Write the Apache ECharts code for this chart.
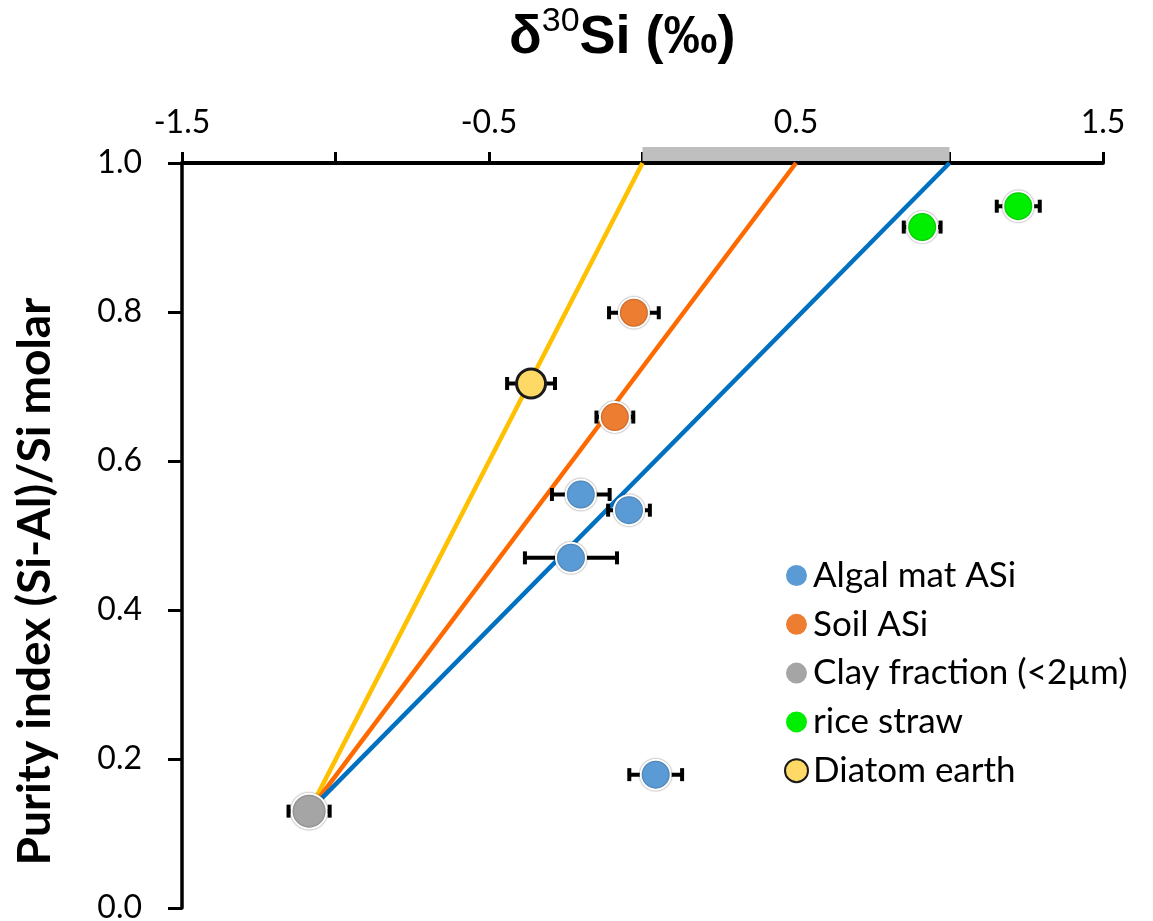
<!DOCTYPE html>
<html>
<head>
<meta charset="utf-8">
<script src="https://cdn.jsdelivr.net/npm/echarts@6/dist/echarts.min.js"></script>
<style>html,body{margin:0;padding:0;background:#fff;}#c{width:1153px;height:921px;}</style>
</head>
<body>
<div id="c"></div>
<script>
// ---- data ----
const algalX = [-0.201, -0.044, -0.233, 0.043];
const algalY = [0.555, 0.534, 0.470, 0.179];
const algalErr = [0.094, 0.068, 0.150, 0.086];

const soilX = [-0.028, -0.090];
const soilY = [0.799, 0.659];
const soilErr = [0.081, 0.060];

const clayX = [-1.086];
const clayY = [0.130];
const clayErr = [0.067];

const riceX = [0.911, 1.224];
const riceY = [0.914, 0.942];
const riceErr = [0.060, 0.070];

const diatomX = [-0.363];
const diatomY = [0.704];
const diatomErr = [0.078];

const mixEndX = [0, 0.5, 1.0];
const mixEndY = 1.0;
const rangeBar = [0, 1.0];

const xTickLabels = ['-1.5', '-0.5', '0.5', '1.5'];
const seriesNames = ['Algal mat ASi', 'Soil ASi', 'Clay fraction (<2µm)', 'rice straw', 'Diatom earth'];

// ---- build ----
const pts = (xs, ys) => xs.map((x, i) => [x, ys[i]]);
const errs = (xs, ys, es) => xs.map((x, i) => [x, ys[i], es[i]]);
const errData = [].concat(
  errs(algalX, algalY, algalErr), errs(soilX, soilY, soilErr), errs(clayX, clayY, clayErr),
  errs(riceX, riceY, riceErr), errs(diatomX, diatomY, diatomErr));

const lineColors = ['#FFC000', '#FF6A00', '#0070C0'];
const ringStyle = { opacity: 1, borderColor: '#ffffff', borderWidth: 2, shadowBlur: 2, shadowColor: 'rgba(0,0,0,0.45)' };

const chart = echarts.init(document.getElementById('c'), null, { renderer: 'canvas' });

const series = [];
// grey range bar above axis
series.push({
  type: 'custom', silent: true, z: 1,
  data: [[rangeBar[0], mixEndY, rangeBar[1]]],
  renderItem: (params, api) => {
    const a = api.coord([api.value(0), api.value(1)]);
    const b = api.coord([api.value(2), api.value(1)]);
    return { type: 'rect', shape: { x: a[0], y: a[1] - 16, width: b[0] - a[0], height: 14 }, style: { fill: '#BFBFBF' } };
  }
});
// mixing lines
mixEndX.forEach((ex, i) => {
  series.push({
    type: 'line', silent: true, z: 2, symbol: 'none',
    data: [[clayX[0], clayY[0]], [ex, mixEndY]],
    lineStyle: { color: lineColors[i], width: 4.5 }
  });
});
// error bars
series.push({
  type: 'custom', silent: true, z: 3,
  data: errData,
  renderItem: (params, api) => {
    const x = api.value(0), y = api.value(1), e = api.value(2);
    const l = api.coord([x - e, y]);
    const r = api.coord([x + e, y]);
    const st = { stroke: '#000', lineWidth: 4 };
    return {
      type: 'group', children: [
        { type: 'line', shape: { x1: l[0], y1: l[1], x2: r[0], y2: r[1] }, style: st },
        { type: 'line', shape: { x1: l[0], y1: l[1] - 6.5, x2: l[0], y2: l[1] + 6.5 }, style: st },
        { type: 'line', shape: { x1: r[0], y1: r[1] - 6.5, x2: r[0], y2: r[1] + 6.5 }, style: st }
      ]
    };
  }
});
// scatter series
series.push({ name: seriesNames[0], type: 'scatter', z: 5, symbolSize: 30, data: pts(algalX, algalY),
  itemStyle: Object.assign({ color: '#5B9BD5' }, ringStyle) });
series.push({ name: seriesNames[1], type: 'scatter', z: 5, symbolSize: 30, data: pts(soilX, soilY),
  itemStyle: Object.assign({ color: '#ED7D31' }, ringStyle) });
series.push({ name: seriesNames[2], type: 'scatter', z: 5, symbolSize: 35, data: pts(clayX, clayY),
  itemStyle: Object.assign({ color: '#A5A5A5' }, ringStyle) });
series.push({ name: seriesNames[3], type: 'scatter', z: 5, symbolSize: 30, data: pts(riceX, riceY),
  itemStyle: Object.assign({ color: '#00EE00' }, ringStyle) });
series.push({ name: seriesNames[4], type: 'scatter', z: 5, symbolSize: 29, data: pts(diatomX, diatomY),
  itemStyle: { opacity: 1, color: '#FFD966', borderColor: '#1a1a1a', borderWidth: 3 } });

const option = {
  backgroundColor: '#ffffff',
  animation: false,
  title: {
    left: 504, top: 0,
    text: '{a|δ}{s|30}{a|Si (‰)}',
    textStyle: {
      rich: {
        a: { fontFamily: 'Liberation Sans', fontWeight: 'bold', fontSize: 54, color: '#000', lineHeight: 66 },
        s: { fontFamily: 'Liberation Sans', fontWeight: 'normal', fontSize: 34, color: '#000', lineHeight: 58, verticalAlign: 'top' }
      }
    }
  },
  grid: { left: 182, right: 50, top: 163, bottom: 13, containLabel: false, outerBoundsMode: 'none' },
  legend: {
    data: seriesNames,
    orient: 'vertical', left: 779, top: 553,
    icon: 'circle', itemWidth: 23, itemHeight: 23, itemGap: 13.8,
    textStyle: { fontFamily: 'Lato', fontSize: 35, lineHeight: 34, color: '#000', padding: [0, 0, 0, 0] }
  },
  xAxis: {
    type: 'value', position: 'top', min: -1.5, max: 1.5, interval: 0.5,
    axisLine: { show: true, onZero: false, lineStyle: { color: '#000', width: 4 } },
    axisTick: { show: true, inside: false, length: 11, lineStyle: { color: '#000', width: 3 } },
    splitLine: { show: false },
    axisLabel: {
      margin: 24, color: '#000', fontFamily: 'Lato', fontSize: 32,
      formatter: v => {
        const s = (Math.round(v * 10) / 10).toFixed(1);
        return xTickLabels.indexOf(s) >= 0 ? s : '';
      }
    }
  },
  yAxis: {
    type: 'value', min: 0, max: 1, interval: 0.2,
    name: 'Purity index (Si-Al)/Si molar', nameLocation: 'middle', nameRotate: 90, nameGap: 124,
    nameTextStyle: { fontFamily: 'Lato', fontWeight: 'bold', fontSize: 46, color: '#000', padding: [0, 92, 0, 0] },
    axisLine: { show: true, onZero: false, lineStyle: { color: '#000', width: 3.5 } },
    axisTick: { show: true, inside: false, length: 14, lineStyle: { color: '#000', width: 3 } },
    splitLine: { show: false },
    axisLabel: { margin: 40, color: '#000', fontFamily: 'Lato', fontSize: 32, formatter: v => v.toFixed(1) }
  },
  series: series
};
chart.setOption(option);
</script>
</body>
</html>
